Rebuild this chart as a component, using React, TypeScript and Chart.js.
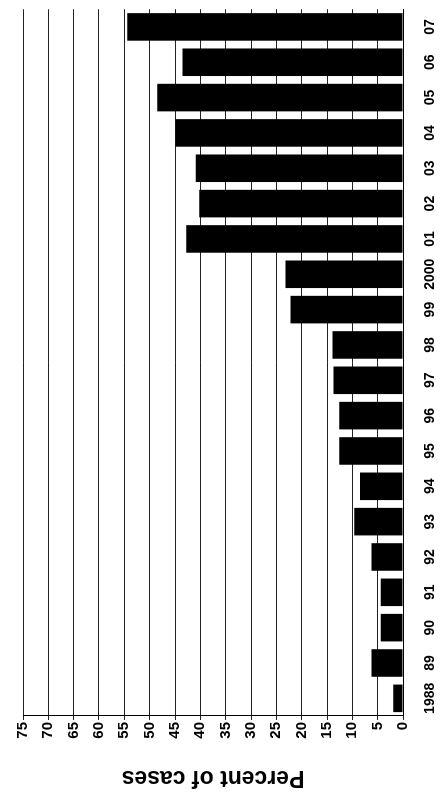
import React, { useEffect, useRef } from 'react';
import { Chart, registerables } from 'chart.js';

Chart.register(...registerables);

// Category labels (years) in chronological order
const years = ['1988', '89', '90', '91', '92', '93', '94', '95', '96', '97', '98', '99', '2000', '01', '02', '03', '04', '05', '06', '07'];
// Percent of cases per year
const percentOfCases = [1.9, 6.2, 4.4, 4.4, 6.2, 9.6, 8.5, 12.6, 12.6, 13.7, 13.9, 22.2, 23.2, 42.8, 40.2, 40.9, 44.9, 48.5, 43.5, 54.4];
// Value axis range
const valueMin = 0;
const valueMax = 75;
const valueStep = 5;
const axisTitle = 'Percent of cases';

const FONT = "'Liberation Sans', Arial, Helvetica, sans-serif";

export default function App() {
  const canvasRef = useRef<HTMLCanvasElement | null>(null);

  useEffect(() => {
    document.documentElement.style.overflow = 'hidden';
    document.body.style.overflow = 'hidden';
    const canvas = canvasRef.current;
    if (!canvas) return;
    const chart = new Chart(canvas, {
      type: 'bar',
      data: {
        labels: years,
        datasets: [
          {
            data: percentOfCases,
            backgroundColor: '#000000',
            borderWidth: 0,
            barPercentage: 0.78,
            categoryPercentage: 1,
          },
        ],
      },
      options: {
        animation: false,
        responsive: false,
        devicePixelRatio: 1,
        layout: { padding: { left: 0, right: 5, top: 23, bottom: 0 } },
        plugins: {
          legend: { display: false },
          tooltip: { enabled: false },
        },
        scales: {
          x: {
            grid: { display: false, drawTicks: false },
            border: { display: true, color: '#000000', width: 1 },
            ticks: {
              color: '#000000',
              font: { family: FONT, size: 14, weight: 'bold' },
              padding: 19,
              minRotation: 0,
              maxRotation: 0,
              autoSkip: false,
            },
            afterFit: (s: any) => {
              s.height = 43;
            },
          },
          y: {
            min: valueMin,
            max: valueMax,
            ticks: {
              stepSize: valueStep,
              color: '#000000',
              font: { family: FONT, size: 15, weight: 'bold' },
              padding: 2,
            },
            grid: { color: '#222222', lineWidth: 1, tickLength: 4, drawTicks: true },
            border: { display: true, color: '#000000', width: 1 },
            title: {
              display: true,
              text: axisTitle,
              color: '#000000',
              font: { family: FONT, size: 23, weight: 'bold' },
              padding: { top: 3, bottom: 0 },
            },
            afterFit: (s: any) => {
              s.width = 78;
            },
          },
        },
      },
    });
    return () => {
      chart.destroy();
    };
  }, []);

  return (
    <div
      style={{
        position: 'fixed',
        left: 0,
        top: 0,
        width: 794,
        height: 446,
        background: '#ffffff',
        transformOrigin: '0 0',
        transform: 'translate(0px, 794px) rotate(-90deg)',
      }}
    >
      <canvas ref={canvasRef} width={794} height={446} style={{ display: 'block' }} />
    </div>
  );
}
